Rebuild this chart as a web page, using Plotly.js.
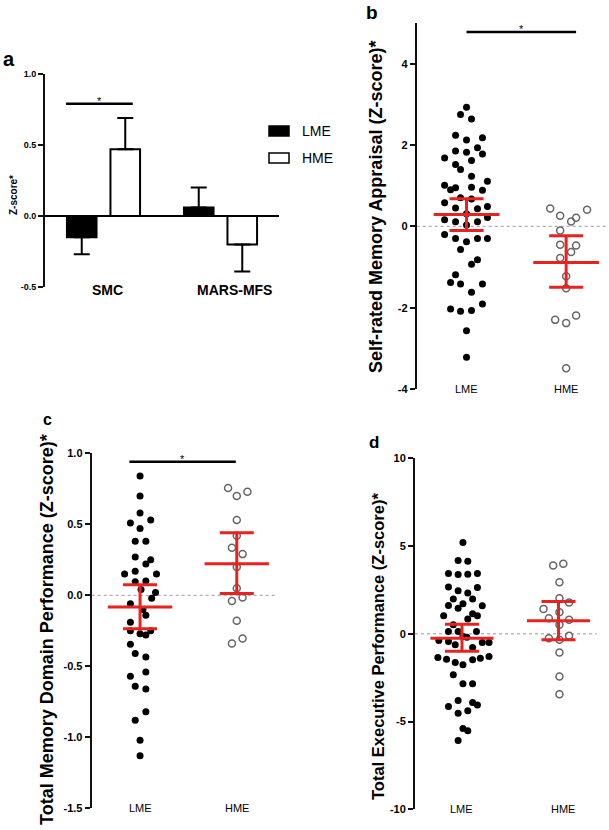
<!DOCTYPE html>
<html>
<head>
<meta charset="utf-8">
<script src="https://cdn.plot.ly/plotly-3.0.1.min.js"></script>
<style>
  html, body { margin: 0; padding: 0; background: #fff; }
  #chart { width: 609px; height: 830px; }
</style>
</head>
<body>
<div id="chart"></div>
<script>
// Panel a: mean z-scores (bars) with one-sided error
const barCats = ['SMC', 'MARS-MFS'];
const barLME = [-0.15, 0.06];
const barHME = [0.47, -0.20];
const errLMEup = [0, 0.14];
const errLMEdown = [0.12, 0];
const errHMEup = [0.22, 0];
const errHMEdown = [0, 0.19];

// Panel b: self-rated memory appraisal (x = jitter offset, y = z-score)
const bLmeX = [0, -0.06, 0.05, -0.11, 0, 0.16, -0.11, 0, 0.11, 0.16, -0.22, 0.05, -0.11, -0.06, 0.05,
  -0.22, -0.16, -0.11, 0.05, 0.16, 0.21, -0.22, -0.11, -0.06, 0.05, 0.11, 0.21, 0, -0.22, -0.11, 0.11,
  0.21, 0, -0.22, -0.11, 0, 0.11, 0.21, -0.06, 0.05, 0.11, -0.11, -0.16, -0.06, 0.16, 0.05, -0.16,
  -0.06, 0.05, 0.16, 0, 0];
const bLmeY = [2.93, 2.75, 2.64, 2.24, 2.12, 2.18, 1.85, 1.82, 1.93, 1.78, 1.68, 1.62, 1.52, 1.40, 1.23,
  1.01, 0.90, 0.95, 0.96, 0.89, 1.11, 0.58, 0.45, 0.70, 0.67, 0.43, 0.49, 0.31, 0.16, 0.11, 0.11,
  0.22, 0.03, -0.20, -0.30, -0.38, -0.30, -0.30, -0.57, -0.93, -0.82, -1.19, -1.38, -1.42, -1.42, -1.62, -2.03,
  -2.09, -2.07, -1.91, -2.57, -3.22];
const bHmeX = [-0.16, -0.06, 0.05, 0.10, 0.21, -0.06, -0.06, 0.10, 0.05, -0.06, 0, 0, -0.11, 0, 0.10, 0];
const bHmeY = [0.44, 0.26, 0.12, 0.21, 0.41, -0.10, -0.45, -0.47, -0.63, -0.78, -1.23, -1.52, -2.30, -2.38, -2.19, -3.49];
const bMean = [0.29, -0.89];
const bErrUp = [0.39, 0.66];
const bErrDown = [0.39, 0.61];

// Panel c: total memory domain performance
const cLmeX = [0, 0, 0, -0.10, 0.11, 0, -0.05, 0.06, -0.05, 0.11, 0.06, -0.16, -0.05, 0.17, -0.05, 0.06,
  0.16, 0.12, 0.01, -0.10, 0.03, 0.06, -0.10, -0.10, 0, 0.06, 0.11, -0.10, -0.05, 0.06, -0.10, 0.06,
  -0.05, 0.06, 0.06, -0.05, 0, 0];
const cLmeY = [0.84, 0.70, 0.58, 0.51, 0.53, 0.47, 0.38, 0.38, 0.27, 0.25, 0.22, 0.15, 0.17, 0.15, 0.095, 0.10,
  0.02, -0.02, 0.04, -0.06, -0.10, -0.14, -0.19, -0.25, -0.27, -0.28, -0.25, -0.345, -0.41, -0.435, -0.57, -0.54,
  -0.64, -0.66, -0.82, -0.88, -1.02, -1.13];
const cHmeX = [-0.09, 0, 0.11, 0, 0, -0.05, 0.06, 0, 0, -0.05, 0.06, 0, -0.05, 0.06];
const cHmeY = [0.755, 0.70, 0.73, 0.53, 0.42, 0.335, 0.29, 0.20, 0.05, -0.04, -0.015, -0.18, -0.34, -0.305];
const cMean = [-0.082, 0.223];
const cErrUp = [0.157, 0.217];
const cErrDown = [0.153, 0.211];

// Panel d: total executive performance
const dLmeX = [0.01, -0.04, 0.06, -0.14, -0.04, 0.06, 0.16, -0.14, -0.04, 0.06, 0.16, -0.09, 0.11, -0.14,
  -0.04, 0.01, 0.21, -0.19, 0.11, 0.16, 0.06, -0.09, -0.14, -0.04, 0.15, 0.01, -0.24, -0.14, -0.07, 0.05,
  0.11, 0.21, 0.28, -0.25, -0.16, -0.07, 0.01, 0.11, 0.19, 0.28, -0.09, 0.01, 0.11, -0.14, -0.04, -0.04,
  0.06, 0.11, 0.16, 0.01, 0.06, -0.04];
const dLmeY = [5.2, 4.18, 4.14, 3.44, 3.38, 3.40, 3.44, 2.66, 2.45, 2.32, 2.64, 1.99, 1.99, 1.61,
  1.46, 1.71, 1.6, 1.03, 1.14, 1.03, 0.84, 0.51, 0.13, 0.13, 0.13, -0.15, -0.38, -0.44, -0.63, -0.2,
  -0.78, -0.5, -0.5, -1.35, -1.45, -1.63, -1.77, -1.48, -1.4, -1.29, -2.34, -2.85, -2.85, -4.14, -3.8, -4.52,
  -4.39, -3.91, -4.05, -5.39, -5.53, -6.08];
const dHmeX = [-0.055, 0.05, 0.01, 0.01, 0.11, -0.155, 0.01, -0.10, 0.11, 0.01, -0.10, 0.11, 0.01, 0.01, 0.01, 0.01];
const dHmeY = [3.89, 3.99, 2.94, 2.03, 1.78, 1.42, 1.23, 0.89, 0.80, 0.51, -0.25, -0.11, -0.34, -1.06, -2.43, -3.45];
const dMean = [-0.25, 0.74];
const dErrUp = [0.8, 1.1];
const dErrDown = [0.75, 1.08];

const groups = ['LME', 'HME'];

const W = 609, H = 830;
function px(x) { return x / W; }
function py(y) { return 1 - y / H; }

const FONT = 'Liberation Sans, Arial, sans-serif';
const RED = '#e8231f';

// dots + red mean/SEM for one scatter panel
function dotTraces(ax, lmeX, lmeY, hmeX, hmeY, means, up, down, hmeCenter, meanSize) {
  let xa = 'x' + ax, ya = 'y' + ax;
  return [
    {
      x: lmeX.map(v => v), y: lmeY, xaxis: xa, yaxis: ya,
      mode: 'markers', type: 'scatter', hoverinfo: 'none',
      marker: {symbol: 'circle', size: 7, color: '#000'}
    },
    {
      x: hmeX.map(v => v + hmeCenter), y: hmeY, xaxis: xa, yaxis: ya,
      mode: 'markers', type: 'scatter', hoverinfo: 'none',
      marker: {symbol: 'circle-open', size: 7, color: '#666', line: {width: 1.5, color: '#666'}}
    },
    {
      x: [0, hmeCenter], y: means, xaxis: xa, yaxis: ya,
      mode: 'markers', type: 'scatter', hoverinfo: 'none',
      marker: {symbol: 'line-ew', size: meanSize, color: RED, line: {width: 3, color: RED}},
      error_y: {type: 'data', symmetric: false, array: up, arrayminus: down,
                color: RED, thickness: 3, width: 17}
    }
  ];
}

let data = [
  {
    x: barCats, y: barLME, type: 'bar', name: 'LME', hoverinfo: 'none',
    marker: {color: '#000', line: {color: '#000', width: 2}},
    error_y: {type: 'data', symmetric: false, array: errLMEup, arrayminus: errLMEdown,
              color: '#000', thickness: 2, width: 8}
  },
  {
    x: barCats, y: barHME, type: 'bar', name: 'HME', hoverinfo: 'none',
    marker: {color: '#fff', line: {color: '#000', width: 2}},
    error_y: {type: 'data', symmetric: false, array: errHMEup, arrayminus: errHMEdown,
              color: '#000', thickness: 2, width: 8}
  }
];
data = data.concat(
  dotTraces(2, bLmeX, bLmeY, bHmeX, bHmeY, bMean, bErrUp, bErrDown, 1, 47),
  dotTraces(3, cLmeX, cLmeY, cHmeX, cHmeY, cMean, cErrUp, cErrDown, 1, 46),
  dotTraces(4, dLmeX, dLmeY, dHmeX, dHmeY, dMean, dErrUp, dErrDown, 1, 45)
);

function yAxis(domain, range, ticks, decimals, fontSize, anchor, zero) {
  return {
    domain: domain, range: range, anchor: anchor,
    tickvals: ticks, ticktext: ticks.map(t => t.toFixed(decimals)),
    showgrid: false, zeroline: zero, zerolinecolor: '#000', zerolinewidth: 1.5,
    showline: true, linecolor: '#111', linewidth: 2,
    ticks: 'outside', ticklen: 5, tickwidth: 2, tickcolor: '#111',
    tickfont: {family: FONT, size: fontSize, color: '#000', weight: 'bold'},
    fixedrange: true
  };
}
function xAxis(domain, range, anchor) {
  return {
    domain: domain, range: range, anchor: anchor,
    showgrid: false, zeroline: false, showline: false, showticklabels: false, ticks: '',
    fixedrange: true
  };
}

const layout = {
  width: W, height: H,
  margin: {l: 0, r: 0, t: 0, b: 0},
  paper_bgcolor: '#fff', plot_bgcolor: 'rgba(0,0,0,0)',
  showlegend: false,
  barmode: 'group', bargap: 0.256, bargroupgap: 0.32,
  font: {family: FONT, color: '#000'},
  xaxis: Object.assign(xAxis([px(45), px(279)], [-0.5, 1.5], 'y'), {type: 'category'}),
  yaxis: yAxis([py(287), py(74)], [-0.5, 1.0], [-0.5, 0, 0.5, 1.0], 1, 9, 'x', true),
  xaxis2: xAxis([px(416.7), px(608)], [-0.5, 1.42], 'y2'),
  yaxis2: yAxis([py(389), py(23)], [-4, 5], [-4, -2, 0, 2, 4], 0, 11, 'x2', false),
  xaxis3: xAxis([px(91.7), px(277.4)], [-0.5, 1.42], 'y3'),
  yaxis3: yAxis([py(808.3), py(453.3)], [-1.5, 1.0], [-1.5, -1.0, -0.5, 0, 0.5, 1.0], 1, 11, 'x3', false),
  xaxis4: xAxis([px(415), px(596.7)], [-0.487, 1.396], 'y4'),
  yaxis4: yAxis([py(809.3), py(458.3)], [-10, 10], [-10, -5, 0, 5, 10], 0, 11, 'x4', false),
  shapes: [],
  annotations: []
};

// dotted zero lines
[2, 3, 4].forEach(function(i) {
  layout.shapes.push({type: 'line', xref: 'x' + i + ' domain', yref: 'y' + i,
    x0: 0, x1: 1, y0: 0, y1: 0, layer: 'below',
    line: {color: '#999', width: 1, dash: 'dot'}});
});

// significance bars
function sig(ax, x0, x1, y) {
  layout.shapes.push({type: 'line', xref: 'x' + ax, yref: 'y' + ax,
    x0: x0, x1: x1, y0: y, y1: y, line: {color: '#000', width: 2.5}});
  layout.annotations.push({xref: 'x' + ax, yref: 'y' + ax, x: (x0 + x1) / 2, y: y,
    text: '*', showarrow: false, yanchor: 'bottom', yshift: -5,
    font: {family: FONT, size: 11, color: '#000'}});
}
sig('', -0.32, 0.25, 0.79);
sig(2, 0, 1.1, 4.78);
sig(3, -0.11, 0.99, 0.94);

// legend of panel a
[['LME', '#000', 131], ['HME', '#fff', 158]].forEach(function(item) {
  layout.shapes.push({type: 'rect', xref: 'paper', yref: 'paper',
    x0: px(269), x1: px(289), y0: py(item[2] + 5), y1: py(item[2] - 5),
    fillcolor: item[1], line: {color: '#000', width: 1.5}});
  layout.annotations.push({xref: 'paper', yref: 'paper', x: px(300), y: py(item[2]),
    text: item[0], showarrow: false, xanchor: 'left', yanchor: 'middle',
    font: {family: FONT, size: 14, color: '#000'}});
});

// category labels
function catLabel(ax, x, text, size, bold, shift) {
  layout.annotations.push({xref: ax === '' ? 'x' : 'x' + ax, yref: (ax === '' ? 'y' : 'y' + ax) + ' domain',
    x: x, y: 0, text: text, showarrow: false, xanchor: 'center', yanchor: 'middle', yshift: shift,
    font: {family: FONT, size: size, color: '#000', weight: bold ? 'bold' : 'normal'}});
}
catLabel('', 0.03, 'SMC', 14, true, -3);
catLabel('', 1.12, 'MARS-MFS', 14, true, -3);
[2, 3].forEach(function(i) {
  catLabel(i, 0, groups[0], 11, false, 0);
  catLabel(i, 1, groups[1], 11, false, 0);
});
catLabel(4, 0, groups[0], 11, false, 0);
catLabel(4, 1.05, groups[1], 11, false, 0);

// rotated y titles
function yTitle(x, y, text, size) {
  layout.annotations.push({xref: 'paper', yref: 'paper', x: px(x), y: py(y), text: text,
    textangle: -90, showarrow: false, xanchor: 'center', yanchor: 'middle',
    font: {family: FONT, size: size, color: '#000', weight: 'bold'}});
}
yTitle(13, 195, 'Z-score*', 10);
yTitle(376, 207, 'Self-rated Memory Appraisal (Z-score)*', 18);
yTitle(47, 630, 'Total Memory Domain Performance (Z-score)*', 18);
yTitle(378, 647, 'Total Executive Performance (Z-score)*', 16.5);

// panel letters
[['a', 8.5, 59, 20], ['b', 371.5, 12, 19], ['c', 47.5, 419, 16], ['d', 373.5, 442.5, 17]].forEach(function(p) {
  layout.annotations.push({xref: 'paper', yref: 'paper', x: px(p[1]), y: py(p[2]), text: p[0],
    showarrow: false, xanchor: 'center', yanchor: 'middle',
    font: {family: FONT, size: p[3], color: '#000', weight: 'bold'}});
});

Plotly.newPlot('chart', data, layout, {displayModeBar: false, staticPlot: true});
</script>
</body>
</html>
